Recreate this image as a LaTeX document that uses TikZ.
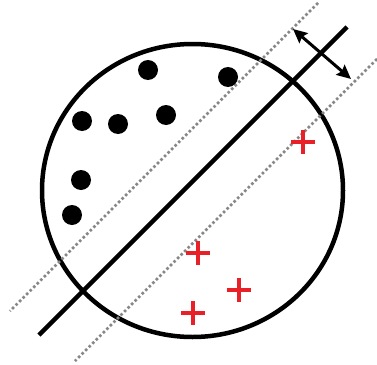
\documentclass[tikz,border=0pt]{standalone}
\usetikzlibrary{shapes.misc,arrows.meta}
\definecolor{crossred}{RGB}{232,32,40}
\definecolor{dotgray}{RGB}{135,135,135}
\tikzset{
  blackdot/.style={circle,fill=black,inner sep=0pt,minimum size=20pt},
  redcross/.style={cross out,draw=crossred,line width=4pt,rotate=45,inner sep=0pt,minimum size=12.7pt},
  marginline/.style={dotgray,line width=2.8pt,dash pattern=on 2.6pt off 2.4pt},
  mainline/.style={black,line width=4.5pt},
  widtharrow/.style={black,line width=3pt,{Stealth[length=14pt,width=13pt,inset=2pt]}-{Stealth[length=14pt,width=13pt,inset=2pt]}}
}
\begin{document}
\begin{tikzpicture}[x=1pt,y=-1pt]
\useasboundingbox (0,0) rectangle (377,364);
% region circle
\draw[line width=4.5pt] (192.5,190.5) ellipse [x radius=150.5, y radius=146.5];
% margin lines
\coordinate (u1) at (318,3);
\coordinate (u2) at (10,311);
\coordinate (l1) at (377,59);
\coordinate (l2) at (75,361);
\draw[marginline] (u1) -- (u2);
\draw[marginline] (l1) -- (l2);
% separating line
\coordinate (m1) at (347,27);
\coordinate (m2) at (39,335);
\draw[mainline] (m1) -- (m2);
% width arrow
\coordinate (a1) at (293,29);
\coordinate (a2) at (351,79);
\draw[widtharrow] (a1) -- (a2);
% class 1 points
\node[blackdot] (p1) at (148,70) {};
\node[blackdot] (p2) at (228,77) {};
\node[blackdot] (p3) at (82,121) {};
\node[blackdot] (p4) at (118,124) {};
\node[blackdot] (p5) at (166,115) {};
\node[blackdot] (p6) at (81,180) {};
\node[blackdot] (p7) at (72,215) {};
% class 2 points
\node[redcross] (q1) at (303,142) {};
\node[redcross] (q2) at (198,253) {};
\node[redcross] (q3) at (239,290) {};
\node[redcross] (q4) at (193,313) {};
\end{tikzpicture}
\end{document}
